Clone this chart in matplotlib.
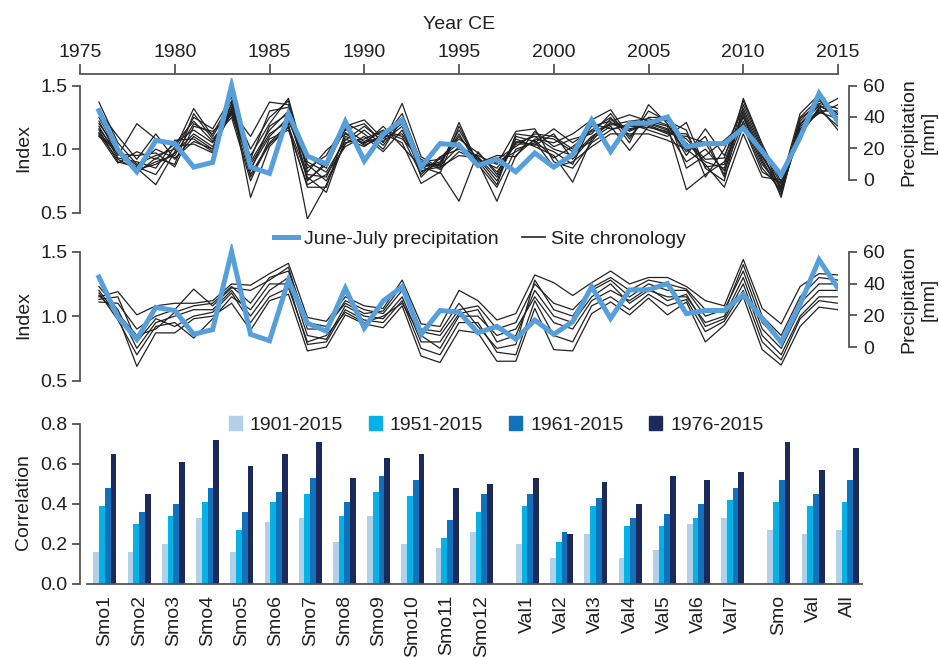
import numpy as np
import matplotlib
matplotlib.use('Agg')
import matplotlib.pyplot as plt
import matplotlib.transforms as mtransforms
from matplotlib.lines import Line2D
from matplotlib.patches import Patch

plt.rcParams['font.family'] = ['Liberation Sans', 'DejaVu Sans']
plt.rcParams['font.size'] = 14
plt.rcParams['text.color'] = '#231f20'
plt.rcParams['axes.labelcolor'] = '#231f20'
plt.rcParams['xtick.color'] = '#555555'
plt.rcParams['ytick.color'] = '#555555'
plt.rcParams['xtick.labelcolor'] = '#231f20'
plt.rcParams['ytick.labelcolor'] = '#231f20'

years = list(range(1976, 2016))

# June-July precipitation [mm]
precip = [44, 19, 5, 25, 23, 8, 11, 60, 8, 4,
          42, 15, 10, 37, 12, 29, 38, 8, 23, 22,
          9, 13, 5, 17, 8, 16, 38, 18, 36, 36,
          40, 21, 23, 23, 33, 18, 3, 27, 55, 37]

# Smo site chronologies, one row per year (12 sites)
smo_by_year = [
    [1.37, 1.30, 1.25, 1.22, 1.20, 1.18, 1.16, 1.15, 1.13, 1.12, 1.11, 1.10],
    [1.05, 1.10, 0.98, 0.95, 1.00, 0.93, 0.97, 0.90, 0.96, 0.92, 0.89, 0.99],
    [0.88, 0.92, 0.85, 1.20, 0.83, 0.90, 0.81, 0.86, 0.95, 0.84, 0.98, 0.87],
    [0.95, 1.12, 0.72, 1.08, 0.90, 0.85, 0.93, 0.80, 0.97, 0.88, 0.92, 1.00],
    [1.00, 0.92, 0.98, 1.05, 0.95, 1.07, 0.88, 1.02, 0.86, 0.97, 1.04, 0.93],
    [1.32, 1.10, 1.25, 1.15, 1.20, 1.08, 1.28, 1.04, 1.18, 1.12, 1.22, 1.06],
    [1.10, 1.00, 1.16, 1.05, 1.12, 0.98, 1.08, 0.97, 1.14, 1.02, 1.06, 1.00],
    [1.35, 1.30, 1.41, 1.28, 1.38, 1.32, 1.25, 1.36, 1.27, 1.33, 1.30, 1.29],
    [0.85, 1.10, 0.80, 0.95, 0.62, 0.90, 0.75, 1.00, 0.88, 0.83, 0.92, 0.78],
    [1.10, 1.37, 1.05, 1.20, 1.02, 1.15, 1.08, 1.25, 1.12, 1.18, 1.30, 1.04],
    [1.25, 1.35, 1.20, 1.40, 1.18, 1.30, 1.15, 1.38, 1.22, 1.28, 1.33, 1.17],
    [0.80, 0.75, 0.45, 0.85, 0.78, 0.94, 0.72, 0.82, 0.88, 0.76, 0.90, 0.70],
    [0.78, 0.90, 0.72, 0.95, 0.66, 0.85, 0.80, 0.99, 0.75, 0.88, 0.82, 0.70],
    [1.10, 1.15, 1.05, 1.21, 1.08, 1.18, 1.02, 1.12, 1.04, 1.16, 1.07, 1.13],
    [1.05, 1.20, 1.08, 1.12, 1.02, 1.23, 1.10, 1.04, 1.15, 1.06, 1.18, 1.03],
    [1.10, 1.05, 1.15, 1.00, 1.12, 1.08, 0.98, 1.18, 1.03, 1.14, 1.06, 1.10],
    [1.20, 1.36, 1.10, 1.25, 1.05, 1.28, 1.15, 1.02, 1.22, 1.08, 1.18, 1.12],
    [0.85, 0.94, 0.80, 0.88, 0.73, 0.90, 0.83, 0.86, 0.78, 0.92, 0.82, 0.87],
    [0.90, 0.85, 0.94, 0.88, 0.82, 0.92, 0.86, 0.81, 0.93, 0.84, 0.89, 0.87],
    [1.10, 1.21, 1.00, 1.15, 0.59, 1.05, 0.95, 1.18, 1.08, 0.98, 1.12, 1.02],
    [0.92, 0.88, 0.95, 0.90, 0.98, 0.86, 0.93, 0.89, 0.97, 0.91, 0.87, 0.94],
    [0.85, 0.70, 0.88, 0.59, 0.80, 0.92, 0.75, 0.95, 0.82, 0.72, 0.90, 0.78],
    [1.05, 1.00, 1.14, 0.95, 1.08, 1.02, 1.10, 0.94, 1.04, 1.12, 0.98, 1.06],
    [1.10, 1.05, 1.16, 1.08, 1.02, 1.12, 1.06, 1.14, 1.04, 1.10, 1.07, 1.03],
    [1.00, 1.16, 0.90, 1.05, 0.95, 1.10, 0.86, 1.02, 0.98, 1.08, 0.93, 1.12],
    [0.95, 1.05, 0.85, 1.12, 0.74, 1.00, 0.90, 1.08, 0.88, 0.98, 1.02, 0.92],
    [1.10, 1.15, 1.05, 1.23, 1.08, 1.18, 1.02, 1.12, 1.20, 1.06, 1.14, 1.09],
    [1.20, 1.25, 1.15, 1.31, 1.18, 1.22, 1.12, 1.28, 1.16, 1.24, 1.19, 1.21],
    [1.15, 1.05, 1.20, 1.10, 0.99, 1.27, 1.12, 1.08, 1.18, 1.14, 1.22, 1.16],
    [1.20, 1.35, 1.15, 1.25, 1.18, 1.22, 1.12, 1.30, 1.17, 1.21, 1.24, 1.19],
    [1.15, 1.20, 1.10, 1.25, 1.12, 1.18, 1.07, 1.22, 1.14, 1.16, 1.19, 1.13],
    [1.05, 0.95, 1.21, 0.85, 1.10, 0.68, 1.00, 1.15, 0.90, 1.08, 0.98, 1.12],
    [0.90, 1.16, 0.85, 0.95, 1.05, 0.80, 0.88, 0.78, 1.00, 0.92, 1.10, 0.86],
    [0.85, 0.95, 0.75, 1.07, 0.80, 0.90, 0.70, 1.00, 0.83, 0.93, 0.78, 0.88],
    [1.30, 1.25, 1.35, 1.20, 1.40, 1.28, 1.12, 1.32, 1.22, 1.38, 1.18, 1.26],
    [0.95, 0.90, 1.00, 0.85, 1.04, 0.92, 0.78, 0.98, 0.88, 1.02, 0.82, 0.94],
    [0.70, 0.66, 0.72, 0.68, 0.74, 0.64, 0.76, 0.62, 0.70, 0.67, 0.73, 0.69],
    [1.20, 1.15, 1.25, 1.12, 1.28, 1.18, 1.10, 1.22, 1.16, 1.24, 1.14, 1.19],
    [1.35, 1.30, 1.40, 1.32, 1.43, 1.28, 1.33, 1.38, 1.31, 1.36, 1.29, 1.34],
    [1.25, 1.30, 1.20, 1.40, 1.22, 1.35, 1.15, 1.28, 1.18, 1.32, 1.24, 1.27],
]

# Val site chronologies, one row per year (7 sites)
val_by_year = [
    [1.23, 1.15, 1.20, 1.11, 1.18, 1.13, 1.16],
    [1.05, 1.19, 1.00, 1.10, 0.97, 1.15, 1.02],
    [0.75, 1.01, 0.61, 0.90, 0.70, 0.80, 0.85],
    [0.95, 1.08, 0.87, 1.00, 0.92, 0.98, 0.90],
    [1.00, 1.10, 0.87, 1.05, 0.95, 0.92, 1.03],
    [1.05, 1.10, 0.98, 1.21, 0.83, 1.00, 1.08],
    [1.05, 1.12, 1.00, 1.08, 0.98, 1.03, 1.10],
    [1.20, 1.25, 1.10, 1.22, 1.15, 1.18, 1.23],
    [1.00, 1.24, 0.89, 1.20, 1.05, 0.95, 1.10],
    [1.20, 1.33, 1.12, 1.28, 1.25, 1.15, 1.30],
    [1.30, 1.41, 1.17, 1.38, 1.25, 1.22, 1.35],
    [0.85, 0.99, 0.73, 0.90, 0.78, 0.80, 0.95],
    [0.82, 0.96, 0.76, 0.90, 0.80, 0.85, 0.92],
    [1.08, 1.15, 1.01, 1.12, 1.05, 1.03, 1.10],
    [1.00, 1.08, 0.94, 1.05, 0.97, 0.95, 1.02],
    [0.98, 1.06, 0.91, 1.02, 0.95, 1.00, 1.04],
    [1.15, 1.28, 1.08, 1.20, 1.12, 1.10, 1.24],
    [0.80, 0.94, 0.69, 0.88, 0.75, 0.85, 0.90],
    [0.80, 0.92, 0.64, 0.85, 0.70, 0.75, 0.88],
    [1.02, 1.20, 0.89, 1.05, 0.95, 1.00, 1.10],
    [1.05, 1.12, 0.87, 1.08, 0.95, 1.00, 0.92],
    [0.80, 0.97, 0.65, 0.90, 0.72, 0.85, 0.75],
    [0.85, 1.02, 0.65, 0.95, 0.70, 0.90, 0.78],
    [1.20, 1.32, 1.06, 1.25, 1.12, 1.15, 1.28],
    [1.00, 1.26, 0.74, 1.10, 0.85, 0.95, 1.05],
    [0.95, 1.16, 0.73, 1.05, 0.80, 0.90, 1.00],
    [1.15, 1.26, 1.02, 1.20, 1.08, 1.12, 1.22],
    [1.25, 1.35, 1.11, 1.28, 1.15, 1.20, 1.30],
    [1.10, 1.25, 1.01, 1.15, 1.05, 1.12, 1.20],
    [1.20, 1.30, 1.14, 1.25, 1.17, 1.22, 1.28],
    [1.15, 1.30, 1.01, 1.20, 1.08, 1.12, 1.25],
    [1.15, 1.23, 1.11, 1.20, 1.13, 1.17, 1.21],
    [0.95, 1.12, 0.80, 1.00, 0.88, 0.92, 1.05],
    [1.00, 1.08, 0.93, 1.05, 0.96, 0.98, 1.03],
    [1.30, 1.44, 1.15, 1.35, 1.20, 1.25, 1.40],
    [0.90, 1.06, 0.74, 0.95, 0.80, 0.85, 1.00],
    [0.75, 0.94, 0.62, 0.80, 0.66, 0.70, 0.85],
    [1.05, 1.23, 0.92, 1.10, 0.98, 1.00, 1.15],
    [1.20, 1.33, 1.07, 1.25, 1.12, 1.15, 1.30],
    [1.20, 1.32, 1.05, 1.25, 1.10, 1.15, 1.28],
]

# correlation bars
smo_names = ['Smo1', 'Smo2', 'Smo3', 'Smo4', 'Smo5', 'Smo6', 'Smo7', 'Smo8',
             'Smo9', 'Smo10', 'Smo11', 'Smo12']
val_names = ['Val1', 'Val2', 'Val3', 'Val4', 'Val5', 'Val6', 'Val7']
all_names = ['Smo', 'Val', 'All']
periods = ['1901-2015', '1951-2015', '1961-2015', '1976-2015']
r_1901 = [0.16, 0.16, 0.20, 0.33, 0.16, 0.31, 0.33, 0.21, 0.34, 0.20, 0.18, 0.26,
          0.20, 0.13, 0.25, 0.13, 0.17, 0.30, 0.33,
          0.27, 0.25, 0.27]
r_1951 = [0.39, 0.30, 0.34, 0.41, 0.27, 0.41, 0.45, 0.34, 0.46, 0.44, 0.23, 0.36,
          0.39, 0.21, 0.39, 0.29, 0.29, 0.33, 0.42,
          0.41, 0.39, 0.41]
r_1961 = [0.48, 0.36, 0.40, 0.48, 0.36, 0.46, 0.53, 0.41, 0.54, 0.52, 0.32, 0.45,
          0.45, 0.26, 0.43, 0.33, 0.35, 0.40, 0.48,
          0.52, 0.45, 0.52]
r_1976 = [0.65, 0.45, 0.61, 0.72, 0.59, 0.65, 0.71, 0.53, 0.63, 0.65, 0.48, 0.50,
          0.53, 0.25, 0.51, 0.40, 0.54, 0.52, 0.56,
          0.71, 0.57, 0.68]

bar_colors = ['#b3d0e9', '#06b1e6', '#0f72bb', '#1c2a5b']
blue = '#569fda'
spine_c = '#555555'

W, H = 939, 657
fig = plt.figure(figsize=(W / 100, H / 100), dpi=100)


def px_axes(left, top, right, bottom):
    return fig.add_axes([left / W, 1 - bottom / H, (right - left) / W, (bottom - top) / H])


# index <-> precipitation mapping: 0 mm at 0.76, 60 mm at 1.5
ylo, yhi = 0.45, 1.56
mm_per_idx = 60 / (1.5 - 0.76)
plo, phi = (ylo - 0.76) * mm_per_idx, (yhi - 0.76) * mm_per_idx


def line_panel(ax, by_year, top_axis):
    sites = np.array(by_year).T
    for s in sites:
        ax.plot(years, s, color='#222222', lw=0.9)
    ax.set_xlim(1975, 2015)
    ax.set_ylim(ylo, yhi)
    ax.set_yticks([0.5, 1.0, 1.5])
    ax.set_yticklabels(['0.5', '1.0', '1.5'])
    ax.set_ylabel('Index', labelpad=6)
    ax.spines['right'].set_visible(False)
    ax.spines['bottom'].set_visible(False)
    ax.spines['left'].set_bounds(0.5, 1.5)
    ax.spines['left'].set_color(spine_c)
    ax.spines['left'].set_linewidth(1.3)
    ax.tick_params(axis='y', length=6, width=1.3, pad=3)
    if top_axis:
        ax.spines['top'].set_position(('outward', 3))
        ax.spines['top'].set_color(spine_c)
        ax.spines['top'].set_linewidth(1.3)
        ax.xaxis.tick_top()
        ax.xaxis.set_label_position('top')
        ax.set_xticks(range(1975, 2016, 5))
        ax.tick_params(axis='x', length=7, width=1.3, pad=2)
        ax.set_xlabel('Year CE', labelpad=11)
    else:
        ax.spines['top'].set_visible(False)
        ax.set_xticks([])
    axr = ax.twinx()
    axr.plot(years, precip, color=blue, lw=3.6, solid_joinstyle='miter')
    axr.set_ylim(plo, phi)
    axr.set_yticks([0, 20, 40, 60])
    for side in ['top', 'left', 'bottom']:
        axr.spines[side].set_visible(False)
    axr.spines['right'].set_position(('outward', 8))
    axr.spines['right'].set_bounds(0, 60)
    axr.spines['right'].set_color(spine_c)
    axr.spines['right'].set_linewidth(1.3)
    axr.tick_params(axis='y', length=6, width=1.3, pad=4)
    trans = mtransforms.blended_transform_factory(fig.transFigure, axr.transData)
    axr.text(919 / W, 30, 'Precipitation\n[mm]', transform=trans, rotation=90,
             ha='center', va='center', ma='center', linespacing=1.3)


ax1 = px_axes(80, 78, 838, 219)
line_panel(ax1, smo_by_year, True)
ax2 = px_axes(80, 244, 838, 387)
line_panel(ax2, val_by_year, False)

fig.legend([Line2D([], [], color=blue, lw=3.6), Line2D([], [], color='#222222', lw=1.2)],
           ['June-July precipitation', 'Site chronology'],
           loc='center', bbox_to_anchor=(480 / W, 1 - 239 / H), ncol=2, frameon=False,
           handlelength=1.2, handletextpad=0.3, columnspacing=1.2, borderpad=0)

# bar panel
gap = 0.35
pos = list(range(len(smo_names)))
pos += [len(smo_names) + gap + i for i in range(len(val_names))]
pos += [len(smo_names) + len(val_names) + 2 * gap + i for i in range(len(all_names))]
pos = np.array(pos)
names = smo_names + val_names + all_names

ax3 = px_axes(80, 420, 862, 584)
bw = 0.168
for k, (vals, c) in enumerate(zip([r_1901, r_1951, r_1961, r_1976], bar_colors)):
    ax3.bar(pos + (k - 1.5) * bw, vals, width=bw, color=c, edgecolor='none')
ax3.set_xlim(-0.73, 22.13)
ax3.set_ylim(0, 0.82)
ax3.set_yticks([0, 0.2, 0.4, 0.6, 0.8])
ax3.set_yticklabels(['0.0', '0.2', '0.4', '0.6', '0.8'])
ax3.set_xticks(pos)
ax3.set_xticklabels(names, rotation=90)
ax3.tick_params(axis='x', length=0, pad=8)
ax3.tick_params(axis='y', length=6, width=1.3, pad=3)
ax3.spines['top'].set_visible(False)
ax3.spines['right'].set_visible(False)
ax3.spines['left'].set_bounds(0, 0.8)
ax3.spines['bottom'].set_bounds(-0.53, 22.13)
for side in ['left', 'bottom']:
    ax3.spines[side].set_color(spine_c)
    ax3.spines[side].set_linewidth(1.3)
ax3.set_ylabel('Correlation', labelpad=6)

fig.legend([Patch(color=c) for c in bar_colors], periods,
           loc='center', bbox_to_anchor=(496 / W, 1 - 425 / H), ncol=4, frameon=False,
           handlelength=0.7, handleheight=0.7, handletextpad=0.4, columnspacing=1.3,
           borderpad=0)

fig.savefig('out.png', dpi=100)
